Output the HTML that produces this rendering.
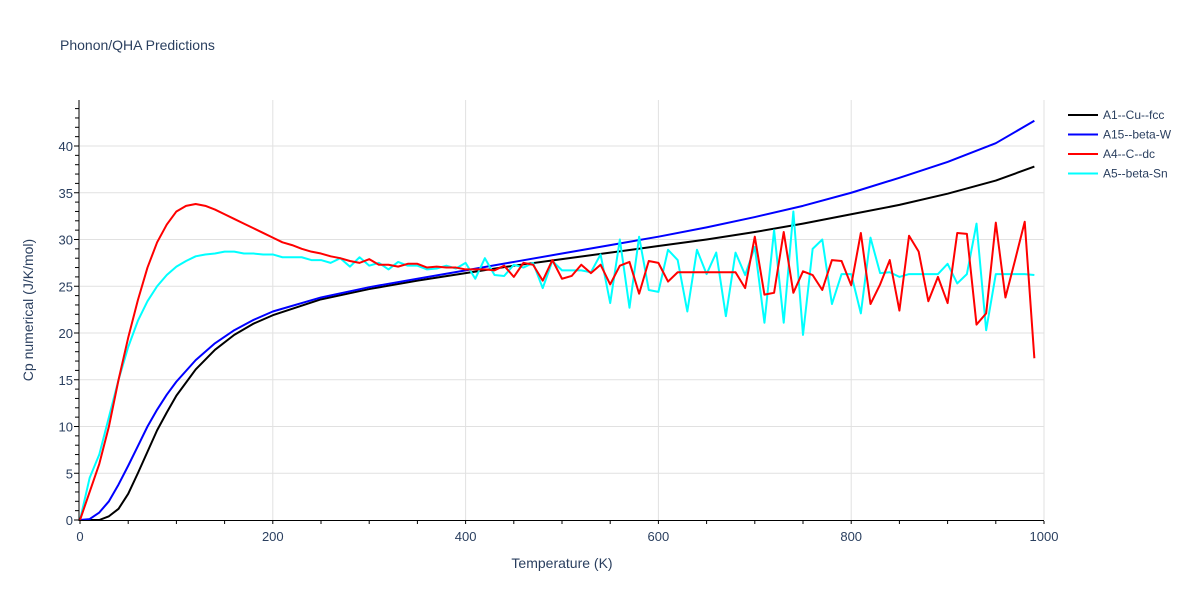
<!DOCTYPE html>
<html><head><meta charset="utf-8"><style>
body{margin:0;background:#fff;font-family:"Liberation Sans",sans-serif}
text{font-family:"Liberation Sans",sans-serif;fill:#2a3f5f}
</style></head><body>
<svg id="chart" width="1200" height="600" xmlns="http://www.w3.org/2000/svg">
<rect width="1200" height="600" fill="#fff"/>
<text x="60" y="50" font-size="14">Phonon/QHA Predictions</text>
<g id="grid"></g>
<g id="series"></g>
<g id="axes"></g>
<g id="legend"></g>
</svg>
<script>
const temps = []; for (let t = 0; t <= 990; t += 10) temps.push(t);
const blackT = [0,20,30,40,50,60,70,80,90,100,120,140,160,180,200,250,300,350,400,450,500,550,600,650,700,750,800,850,900,950,990];
const blackV = [0,0,0.4,1.2,2.8,5,7.3,9.6,11.5,13.3,16.1,18.2,19.8,21,21.9,23.6,24.7,25.6,26.4,27.2,27.9,28.6,29.3,30,30.8,31.7,32.7,33.7,34.9,36.3,37.8];
const blueT = [0,10,20,30,40,50,60,70,80,90,100,120,140,160,180,200,250,300,350,400,450,500,550,600,650,700,750,800,850,900,950,990];
const blueV = [0,0.1,0.8,2,3.8,5.8,7.9,10,11.8,13.4,14.8,17.1,18.9,20.3,21.4,22.3,23.8,24.9,25.8,26.7,27.6,28.5,29.4,30.3,31.3,32.4,33.6,35,36.6,38.3,40.3,42.7];
const redV = [0,3,6,10,15,19.5,23.5,27,29.7,31.6,33,33.6,33.8,33.6,33.2,32.7,32.2,31.7,31.2,30.7,30.2,29.7,29.4,29.0,28.7,28.5,28.2,28.0,27.7,27.5,27.9,27.3,27.3,27.1,27.4,27.4,27.0,27.1,27.0,27.0,26.8,26.8,26.8,26.7,27.2,26.0,27.5,27.3,25.6,27.8,25.8,26.1,27.3,26.4,27.3,25.2,27.2,27.6,24.2,27.7,27.5,25.5,26.5,26.5,26.5,26.5,26.5,26.5,26.5,24.8,30.3,24.1,24.3,30.8,24.3,26.6,26.2,24.6,27.8,27.7,25.1,30.7,23.1,25.2,27.8,22.4,30.4,28.7,23.4,26.0,23.2,30.7,30.6,20.9,22.1,31.8,23.8,27.8,31.9,17.3];
const cyanV = [0,4.5,7,11,15,18.5,21.3,23.4,25,26.2,27.1,27.7,28.2,28.4,28.5,28.7,28.7,28.5,28.5,28.4,28.4,28.1,28.1,28.1,27.8,27.8,27.5,28.0,27.1,28.1,27.2,27.5,26.8,27.6,27.2,27.2,26.8,26.9,27.2,26.9,27.5,25.8,28.0,26.2,26.1,27.3,27.0,27.5,24.8,27.7,26.7,26.7,26.7,26.5,28.4,23.2,30.0,22.7,30.3,24.6,24.4,28.9,27.8,22.3,28.9,26.3,28.6,21.8,28.6,26.2,29.2,21.1,31.0,21.1,33.0,19.8,29.0,30.0,23.1,26.3,26.3,22.1,30.2,26.4,26.5,26.0,26.3,26.3,26.3,26.3,27.4,25.3,26.3,31.7,20.3,26.3,26.3,26.3,26.3,26.2];
const xTicks = [0,200,400,600,800,1000];
const yTicks = [0,5,10,15,20,25,30,35,40];
const seriesNames = ["A1--Cu--fcc","A15--beta-W","A4--C--dc","A5--beta-Sn"];
const seriesColors = ["#000000","#0000ff","#ff0000","#00ffff"];

const X = t => 80 + t * 0.964;
const Y = v => 520 - v * 9.35;
const NS = "http://www.w3.org/2000/svg";
function mk(tag, parent, attrs){const e=document.createElementNS(NS,tag);for(const k in attrs)e.setAttribute(k,attrs[k]);parent.appendChild(e);return e;}
const grid=document.getElementById('grid'), axes=document.getElementById('axes'), ser=document.getElementById('series'), leg=document.getElementById('legend');

yTicks.forEach(v=>{
  if(v>0){const l=mk('line',grid,{x1:80,x2:1044,y1:Y(v),y2:Y(v),stroke:'#e1e1e1','stroke-width':1});
  
  }
  const t=mk('text',axes,{x:73,y:Y(v)+5,'font-size':13,'text-anchor':'end'});t.textContent=v;
  
  
});
for(let v=0;v<=44;v++){mk('line',axes,{x1:v%5?75:74,x2:79,y1:Y(v),y2:Y(v),stroke:'#000','stroke-width':1});}
xTicks.forEach(t=>{
  if(t>0){const l=mk('line',grid,{x1:X(t),x2:X(t),y1:100,y2:520,stroke:'#e1e1e1','stroke-width':1});
  
  }
  const tx=mk('text',axes,{x:X(t),y:541,'font-size':13,'text-anchor':'middle'});tx.textContent=t;
  
  
});
for(let t=0;t<=1000;t+=50){mk('line',axes,{x1:X(t),x2:X(t),y1:521,y2:524,stroke:'#000','stroke-width':1});}
mk('line',axes,{x1:79,x2:79,y1:100,y2:521,stroke:'#000','stroke-width':1});
mk('line',axes,{x1:79,x2:1044,y1:520.5,y2:520.5,stroke:'#000','stroke-width':1});
const xt=mk('text',axes,{x:562,y:568,'font-size':14,'text-anchor':'middle'});xt.textContent='Temperature (K)';


const yt=mk('text',axes,{x:33,y:310,'font-size':14,'text-anchor':'middle',transform:'rotate(-90 33 310)'});yt.textContent='Cp numerical (J/K/mol)';



const data=[[blackT,blackV],[blueT,blueV],[temps,redV],[temps,cyanV]];
const order=[0,1,3,2];
order.forEach(i=>{
  const [ts,vs]=data[i];
  const p=mk('polyline',ser,{points:ts.map((t,j)=>X(t)+','+Y(vs[j])).join(' '),fill:'none',stroke:seriesColors[i],'stroke-width':2,'stroke-linejoin':'round'});
  
  
});
seriesNames.forEach((n,i)=>{
  const y=115+i*19.5;
  const g=mk('g',leg,{});
  
  
  mk('line',g,{x1:1068,x2:1098,y1:y,y2:y,stroke:seriesColors[i],'stroke-width':2});
  const t=mk('text',g,{x:1103,y:y+4,'font-size':12});t.textContent=n;
});
</script>
</body></html>
